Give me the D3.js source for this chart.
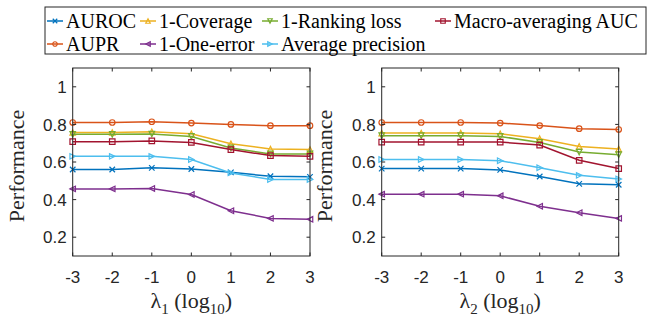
<!DOCTYPE html>
<html>
<head>
<meta charset="utf-8">
<script src="https://cdn.jsdelivr.net/npm/d3@7"></script>
<style>
  body { margin: 0; background: #fff; }
  svg { display: block; }
  .serif { font-family: 'Liberation Serif', 'Times New Roman', Times, 'DejaVu Serif', serif; }
  .sans { font-family: 'Liberation Sans', Arial, Helvetica, sans-serif; }
</style>
</head>
<body>
<div id="chart"></div>
<script>
const xTicks = [-3, -2, -1, 0, 1, 2, 3]
const yTicks = [0.2, 0.4, 0.6, 0.8, 1]
const seriesNames = ['AUROC', 'AUPR', '1-Coverage', '1-One-error', '1-Ranking loss', 'Average precision', 'Macro-averaging AUC']

// lambda_1 panel
const lambda1 = {
  'AUROC':               [0.560, 0.560, 0.569, 0.563, 0.545, 0.524, 0.521],
  'AUPR':                [0.810, 0.810, 0.814, 0.807, 0.800, 0.793, 0.793],
  '1-Coverage':          [0.757, 0.757, 0.761, 0.750, 0.697, 0.669, 0.666],
  '1-One-error':         [0.457, 0.457, 0.459, 0.427, 0.341, 0.300, 0.295],
  '1-Ranking loss':      [0.747, 0.747, 0.749, 0.736, 0.675, 0.643, 0.643],
  'Average precision':   [0.630, 0.630, 0.630, 0.613, 0.542, 0.507, 0.507],
  'Macro-averaging AUC': [0.708, 0.708, 0.712, 0.704, 0.666, 0.634, 0.630]
}
// lambda_2 panel
const lambda2 = {
  'AUROC':               [0.565, 0.565, 0.565, 0.558, 0.523, 0.484, 0.479],
  'AUPR':                [0.810, 0.810, 0.810, 0.807, 0.794, 0.777, 0.773],
  '1-Coverage':          [0.754, 0.754, 0.754, 0.750, 0.724, 0.683, 0.669],
  '1-One-error':         [0.429, 0.429, 0.429, 0.420, 0.365, 0.330, 0.300],
  '1-Ranking loss':      [0.740, 0.740, 0.740, 0.736, 0.704, 0.653, 0.639],
  'Average precision':   [0.613, 0.613, 0.613, 0.607, 0.569, 0.529, 0.510],
  'Macro-averaging AUC': [0.706, 0.706, 0.706, 0.706, 0.690, 0.609, 0.565]
}

const colors = ['#0072BD', '#D95319', '#EDB120', '#7E2F8E', '#77AC30', '#4DBEEE', '#A2142F']
const markers = ['x', 'o', '^', '<', 'v', '>', 's']

const width = 667
const height = 320
const TOP = 68
const BOTTOM = 256
const AXIS_COLOR = '#262626'

const svg = d3.select('#chart').append('svg').attr('width', width).attr('height', height)

const yScale = d3.scaleLinear().domain([0.1, 1.1]).range([BOTTOM, TOP])

function markerPath(type, s) {
  const h = s / 2
  switch (type) {
    case 'x': return `M${-h},${-h}L${h},${h}M${-h},${h}L${h},${-h}`
    case 'o': return d3.symbol(d3.symbolCircle, Math.PI * h * h)()
    case 's': return `M${-h},${-h}h${s}v${s}h${-s}Z`
    case '^': return `M0,${-h}L${h},${h}L${-h},${h}Z`
    case 'v': return `M0,${h}L${h},${-h}L${-h},${-h}Z`
    case '<': return `M${-h},0L${h},${-h}L${h},${h}Z`
    case '>': return `M${h},0L${-h},${-h}L${-h},${h}Z`
  }
}

function drawMarker(g, type, color, size) {
  g.append('path')
    .attr('d', markerPath(type, size))
    .attr('fill', 'none')
    .attr('stroke', color)
    .attr('stroke-width', 1.2)
}

function drawPanel(left, right, data, sub, labelX) {
  const xScale = d3.scaleLinear().domain([-3, 3]).range([left, right])
  const g = svg.append('g')

  // series
  seriesNames.forEach((name, k) => {
    const vals = data[name]
    const line = d3.line().x((d, i) => xScale(xTicks[i])).y(d => yScale(d))
    g.append('path')
      .attr('d', line(vals))
      .attr('fill', 'none')
      .attr('stroke', colors[k])
      .attr('stroke-width', 1.5)
    vals.forEach((v, i) => {
      const m = g.append('g').attr('transform', `translate(${xScale(xTicks[i])},${yScale(v)})`)
      drawMarker(m, markers[k], colors[k], 5.5)
    })
  })

  // box
  g.append('rect')
    .attr('x', left).attr('y', TOP)
    .attr('width', right - left).attr('height', BOTTOM - TOP)
    .attr('fill', 'none').attr('stroke', AXIS_COLOR).attr('stroke-width', 1)

  // ticks inside, all four sides
  const TL = 3.5
  xTicks.forEach(t => {
    const x = xScale(t)
    g.append('line').attr('x1', x).attr('x2', x).attr('y1', BOTTOM).attr('y2', BOTTOM - TL).attr('stroke', AXIS_COLOR)
    g.append('line').attr('x1', x).attr('x2', x).attr('y1', TOP).attr('y2', TOP + TL).attr('stroke', AXIS_COLOR)
    g.append('text')
      .attr('class', 'sans')
      .attr('x', x).attr('y', 283)
      .attr('text-anchor', 'middle')
      .attr('font-size', 17).attr('fill', AXIS_COLOR)
      .text(t)
  })
  yTicks.forEach(t => {
    const y = yScale(t)
    g.append('line').attr('x1', left).attr('x2', left + TL).attr('y1', y).attr('y2', y).attr('stroke', AXIS_COLOR)
    g.append('line').attr('x1', right).attr('x2', right - TL).attr('y1', y).attr('y2', y).attr('stroke', AXIS_COLOR)
    g.append('text')
      .attr('class', 'sans')
      .attr('x', left - 6).attr('y', y).attr('dy', '0.36em')
      .attr('text-anchor', 'end')
      .attr('font-size', 17).attr('fill', AXIS_COLOR)
      .text(t)
  })

  // axis labels
  g.append('text')
    .attr('class', 'serif')
    .attr('transform', `translate(${labelX},${(TOP + BOTTOM) / 2 + 4}) rotate(-90)`)
    .attr('text-anchor', 'middle')
    .attr('font-size', 22).attr('fill', AXIS_COLOR)
    .text('Performance')

  const xl = g.append('text')
    .attr('class', 'serif')
    .attr('x', (left + right) / 2).attr('y', 308)
    .attr('text-anchor', 'middle')
    .attr('font-size', 22).attr('fill', AXIS_COLOR)
  xl.append('tspan').text('λ')
  xl.append('tspan').attr('font-size', 15).attr('dy', 6).text(sub)
  xl.append('tspan').attr('dy', -6).text(' (log')
  xl.append('tspan').attr('font-size', 15).attr('dy', 6).text('10')
  xl.append('tspan').attr('dy', -6).text(')')
}

drawPanel(72.7, 310, lambda1, '1', 24)
drawPanel(381.7, 618.7, lambda2, '2', 332)

// legend, 4 columns filled column-wise
const legend = svg.append('g')
legend.append('rect')
  .attr('x', 45).attr('y', 7).attr('width', 601).attr('height', 47)
  .attr('fill', '#fff').attr('stroke', AXIS_COLOR).attr('stroke-width', 1)

const colX = [47, 140, 262, 435]
const rowY = [21, 44]
seriesNames.forEach((name, k) => {
  const col = Math.floor(k / 2)
  const row = k % 2
  const x0 = colX[col]
  const y0 = rowY[row]
  const item = legend.append('g')
  item.append('line')
    .attr('x1', x0).attr('x2', x0 + 16).attr('y1', y0).attr('y2', y0)
    .attr('stroke', colors[k]).attr('stroke-width', 1.5)
  const m = item.append('g').attr('transform', `translate(${x0 + 8},${y0})`)
  drawMarker(m, markers[k], colors[k], 4.5)
  item.append('text')
    .attr('class', 'serif')
    .attr('x', x0 + 19).attr('y', y0).attr('dy', '0.35em')
    .attr('font-size', 20).attr('fill', '#000')
    .text(name)
})
</script>
</body>
</html>
